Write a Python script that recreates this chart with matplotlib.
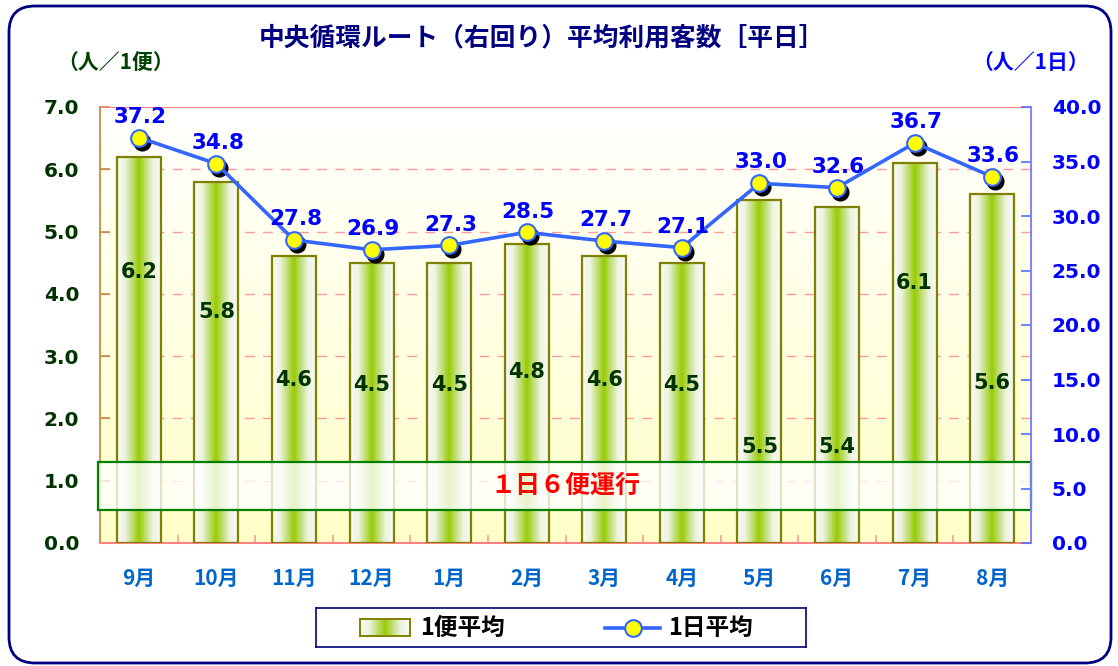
import numpy as np
import matplotlib
matplotlib.use("Agg")
import matplotlib.pyplot as plt
from matplotlib.colors import LinearSegmentedColormap
from matplotlib.patches import Rectangle, FancyBboxPatch
from matplotlib.lines import Line2D
import matplotlib.transforms as mtransforms

plt.rcParams['font.family'] = ['DejaVu Sans', 'Noto Sans CJK JP']

# ---- data ----
months = ["9月", "10月", "11月", "12月", "1月", "2月", "3月", "4月", "5月", "6月", "7月", "8月"]
per_trip = [6.2, 5.8, 4.6, 4.5, 4.5, 4.8, 4.6, 4.5, 5.5, 5.4, 6.1, 5.6]
per_day = [37.2, 34.8, 27.8, 26.9, 27.3, 28.5, 27.7, 27.1, 33.0, 32.6, 36.7, 33.6]
left_ticks = [0, 1, 2, 3, 4, 5, 6, 7]
right_ticks = [0, 5, 10, 15, 20, 25, 30, 35, 40]
title = "中央循環ルート（右回り）平均利用客数［平日］"
band_text = "１日６便運行"
band_range = (0.53, 1.3)
# layout: y position (left-axis units) of labels inside bars
bar_label_y = [4.35, 3.71, 2.62, 2.54, 2.54, 2.74, 2.62, 2.54, 1.54, 1.54, 4.17, 2.57]

CJK = ['Noto Sans CJK JP', 'DejaVu Sans']

W, H = 1118, 666
fig = plt.figure(figsize=(W / 100, H / 100), dpi=100)
fig.patch.set_facecolor('white')

# rounded frame (pixel coordinates background axes)
bax = fig.add_axes([0, 0, 1, 1], zorder=-10)
bax.set_xlim(0, W)
bax.set_ylim(0, H)
bax.axis('off')
frame = FancyBboxPatch((9, 3), 1102, 657,
                       boxstyle="round,pad=0,rounding_size=26",
                       facecolor='none', edgecolor='#000080', linewidth=2)
bax.add_patch(frame)

ax = fig.add_axes([100 / W, (H - 543) / H, 931 / W, 436 / H])
ax.set_xlim(-0.5, 11.5)
ax.set_ylim(0, 7)

# background gradient
bg_cmap = LinearSegmentedColormap.from_list('bg', ['#FFFFC8', '#FFFFFF'])
grad = np.linspace(0, 1, 256).reshape(-1, 1)
ax.imshow(grad, extent=(-0.5, 11.5, 0, 7), origin='lower', aspect='auto',
          cmap=bg_cmap, zorder=-2, interpolation='bicubic')

# grid
for v in left_ticks[1:-1]:
    ax.axhline(v, color='#FF9999', lw=1, ls=(0, (7, 6)), zorder=0.5)

# bars
x = np.arange(len(months))
bw = 0.567
bars = ax.bar(x, per_trip, width=bw, facecolor='none', edgecolor='#808000',
              linewidth=1.6, zorder=3)
bar_cmap = LinearSegmentedColormap.from_list(
    'bar', [(0, '#F8FAF4'), (0.18, '#EEF4E2'), (0.38, '#B8DA60'), (0.5, '#99CC00'),
            (0.62, '#B8DA60'), (0.82, '#EEF4E2'), (1, '#F8FAF4')])
hgrad = np.linspace(0, 1, 256).reshape(1, -1)
for xi, h, b in zip(x, per_trip, bars):
    im = ax.imshow(hgrad, extent=(xi - bw / 2, xi + bw / 2, 0, h), aspect='auto',
                   cmap=bar_cmap, zorder=2, interpolation='bicubic')
    im.set_clip_path(b)
ax.set_xlim(-0.5, 11.5)
ax.set_ylim(0, 7)

# band
band = Rectangle((-0.53, band_range[0]), 12.03, band_range[1] - band_range[0],
                 facecolor='white', alpha=0.78, edgecolor='none', zorder=4, clip_on=False)
ax.add_patch(band)
band_e = Rectangle((-0.53, band_range[0]), 12.03, band_range[1] - band_range[0],
                   facecolor='none', edgecolor='#008000', lw=1.6, zorder=4.1, clip_on=False)
ax.add_patch(band_e)
ax.text(5.5, sum(band_range) / 2, band_text, color='#FF0000', fontsize=18,
        fontweight='bold', family=CJK, ha='center', va='center', zorder=6)

# bar labels
for xi, v, ly in zip(x, per_trip, bar_label_y):
    ax.text(xi, ly, f"{v:.1f}", color='#003300', fontsize=15, fontweight='bold',
            ha='center', va='center', zorder=6)

# spines / ticks (left axis)
ax.spines['left'].set_color('#C09040')
ax.spines['left'].set_linewidth(1.3)
ax.spines['top'].set_color('#FF8080')
ax.spines['bottom'].set_color('#FF8080')
ax.spines['bottom'].set_linewidth(1.5)
ax.spines['right'].set_color('#8080FF')
ax.set_yticks(left_ticks)
ax.set_yticklabels([f"{v:.1f}" for v in left_ticks])
ax.tick_params(axis='y', direction='in', length=7, width=1.2, color='#C09040',
               labelcolor='#003300', labelsize=14.5, pad=15)
for t in ax.get_yticklabels():
    t.set_fontweight('bold')
ax.set_xticks(x)
ax.set_xticklabels(months)
ax.tick_params(axis='x', which='major', length=0, pad=18, labelcolor='#0066CC', labelsize=15)
for t in ax.get_xticklabels():
    t.set_fontweight('bold')
    t.set_family(CJK)
ax.set_xticks(np.arange(-0.5, 12, 1), minor=True)
ax.tick_params(axis='x', which='minor', direction='in', length=6, width=1.2, color='#FF9999')

# right axis
ax2 = ax.twinx()
ax2.set_ylim(0, 40)
ax2.set_xlim(-0.5, 11.5)
for s in ['left', 'top', 'bottom']:
    ax2.spines[s].set_visible(False)
ax2.spines['right'].set_color('#8080FF')
ax2.spines['right'].set_linewidth(1.3)
ax2.set_yticks(right_ticks)
ax2.set_yticklabels([f"{v:.1f}" for v in right_ticks])
ax2.tick_params(axis='y', direction='in', length=7, width=1.2, color='#5070FF',
                labelcolor='#0000FF', labelsize=14.5, pad=15)
for t in ax2.get_yticklabels():
    t.set_fontweight('bold')

shadow = mtransforms.offset_copy(ax2.transData, fig=fig, x=3, y=-4, units='dots')
ax2.plot(x, per_day, ls='none', marker='o', markersize=12, color='black',
         markeredgecolor='black', transform=shadow, zorder=5)
ax2.plot(x, per_day, color='#3366FF', lw=2.6, marker='o', markersize=12,
         markerfacecolor='#FFFF00', markeredgecolor='#3366FF', markeredgewidth=1.5, zorder=6)
for xi, v in zip(x, per_day):
    ax2.annotate(f"{v:.1f}", (xi, v), xytext=(1, 15), textcoords='offset points',
                 ha='center', va='center', color='#0000FF', fontsize=15.5,
                 fontweight='bold', zorder=7)

# title and unit labels
fig.text(542 / W, 1 - 38 / H, title, color='#000080', fontsize=18.5, fontweight='bold',
         family=CJK, ha='center', va='center')
fig.text(116 / W, 1 - 62 / H, "（人／1便）", color='#004000', fontsize=15,
         fontweight='bold', family=CJK, ha='center', va='center')
fig.text(1031 / W, 1 - 62 / H, "（人／1日）", color='#0000FF', fontsize=15,
         fontweight='bold', family=CJK, ha='center', va='center')

# legend
lax = fig.add_axes([316 / W, (H - 647) / H, 490 / W, 39 / H])
lax.set_xlim(0, 490)
lax.set_ylim(0, 39)
lax.set_xticks([])
lax.set_yticks([])
for s in lax.spines.values():
    s.set_color('#000080')
    s.set_linewidth(1.2)
lrect = Rectangle((44, 11), 50, 17, facecolor='none', edgecolor='#808000', lw=1.4, zorder=3)
lax.add_patch(lrect)
lim = lax.imshow(hgrad, extent=(44, 94, 11, 28), aspect='auto', cmap=bar_cmap, zorder=2)
lim.set_clip_path(lrect)
lax.set_xlim(0, 490)
lax.set_ylim(0, 39)
lax.text(104, 19.5, "1便平均", fontsize=17, fontweight='bold', family=CJK,
         ha='left', va='center', color='black')
lax.add_line(Line2D([289, 344], [19.5, 19.5], color='#3366FF', lw=2.6))
lax.plot([316.5], [19.5], marker='o', markersize=12, markerfacecolor='#FFFF00',
         markeredgecolor='#3366FF', markeredgewidth=1.5)
lax.text(352, 19.5, "1日平均", fontsize=17, fontweight='bold', family=CJK,
         ha='left', va='center', color='black')

fig.savefig('out.png', dpi=100)
